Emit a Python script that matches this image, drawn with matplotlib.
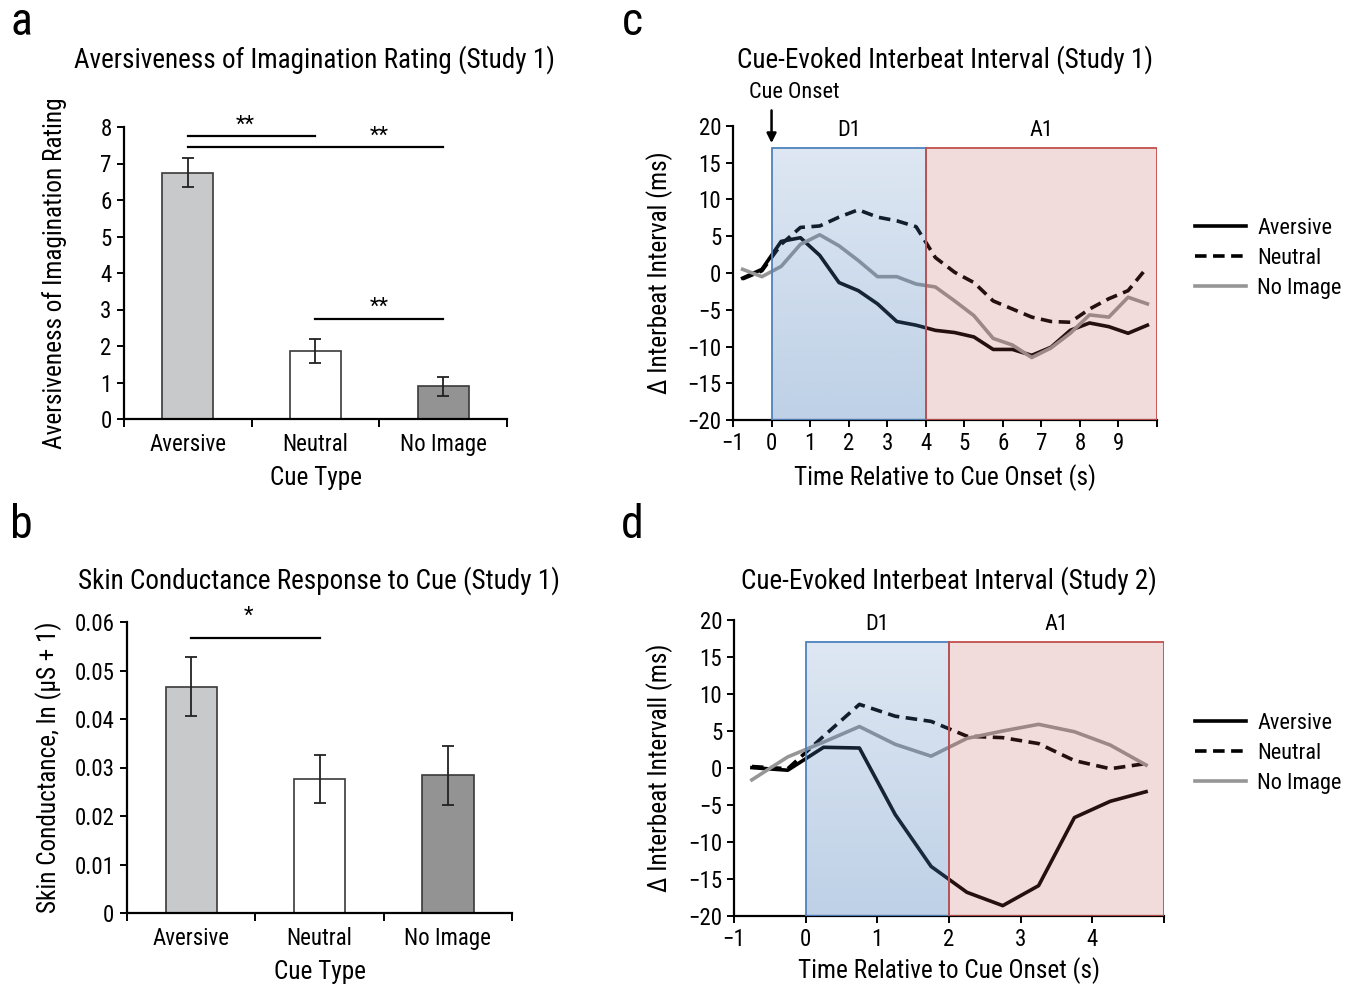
import numpy as np
import matplotlib
matplotlib.use("Agg")
import matplotlib.pyplot as plt
import matplotlib.font_manager as fm
from matplotlib.patches import Rectangle
from matplotlib.lines import Line2D
from matplotlib.colors import to_rgb

# pick a narrow / condensed sans face if one is installed
_fonts = fm.fontManager.ttflist
_chosen = None
for fam in ["Liberation Sans Narrow", "Roboto Condensed", "Open Sans Condensed",
            "Noto Sans Condensed", "DejaVu Sans Condensed"]:
    if any(f.name == fam for f in _fonts):
        _chosen = (fam, "normal")
        break
if _chosen is None:
    for fam in ["Roboto", "Noto Sans", "Open Sans", "DejaVu Sans", "Liberation Sans"]:
        if any(f.name == fam and str(f.stretch) in ("condensed", "semi-condensed") and f.weight in (400, "normal", "regular")
               for f in _fonts):
            _chosen = (fam, "condensed")
            break
if _chosen is None:
    _chosen = ("Liberation Sans", "normal")
plt.rcParams['font.family'] = [_chosen[0], 'DejaVu Sans']
plt.rcParams['font.stretch'] = _chosen[1]
plt.rcParams['axes.unicode_minus'] = True

# ---------------- data ----------------
cue_types = ["Aversive", "Neutral", "No Image"]
bar_colors = ["#c8c9cb", "#ffffff", "#939393"]

rating_mean = [6.75, 1.86, 0.90]
rating_err = [0.40, 0.33, 0.26]

scr_mean = [0.0467, 0.0276, 0.0284]
scr_err = [0.0060, 0.0050, 0.0061]

time_s1 = [-0.75, -0.25, 0.25, 0.75, 1.25, 1.75, 2.25, 2.75, 3.25, 3.75, 4.25,
           4.75, 5.25, 5.75, 6.25, 6.75, 7.25, 7.75, 8.25, 8.75, 9.25, 9.75]
ibi_s1_aversive = [-0.7, 0.5, 4.3, 4.8, 2.4, -1.3, -2.4, -4.2, -6.6, -7.1, -7.8,
                   -8.1, -8.7, -10.4, -10.4, -11.2, -10.1, -7.8, -6.8, -7.3, -8.2, -7.1]
ibi_s1_neutral = [-0.8, 0.3, 3.9, 6.2, 6.4, 7.6, 8.6, 7.6, 7.1, 6.3, 2.1,
                  0.1, -1.3, -3.8, -4.9, -6.0, -6.6, -6.7, -4.9, -3.5, -2.4, 0.8]
ibi_s1_noimage = [0.5, -0.5, 0.9, 3.9, 5.2, 3.7, 1.7, -0.5, -0.5, -1.5, -1.9,
                  -3.8, -5.8, -8.9, -9.8, -11.5, -10.2, -8.2, -5.7, -6.0, -3.3, -4.2]

time_s2 = [-0.75, -0.25, 0.25, 0.75, 1.25, 1.75, 2.25, 2.75, 3.25, 3.75, 4.25, 4.75]
ibi_s2_aversive = [0.05, -0.3, 2.8, 2.7, -6.3, -13.3, -16.8, -18.6, -15.9, -6.7, -4.5, -3.2]
ibi_s2_neutral = [0.2, -0.1, 4.3, 8.6, 7.0, 6.3, 4.3, 4.1, 3.3, 1.0, -0.1, 0.6]
ibi_s2_noimage = [-1.6, 1.5, 3.5, 5.6, 3.2, 1.6, 4.0, 5.0, 5.9, 4.9, 3.1, 0.4]

W, H = 1350, 985
fig = plt.figure(figsize=(W / 100, H / 100), dpi=100)


def fx(px):
    return px / W


def fy(py):
    return 1 - py / H


def axes_px(l, t, r, b):
    return fig.add_axes([fx(l), fy(b), (r - l) / W, (b - t) / H])


TICK = 16.5
LAB = 18.2
TITLE = 19.5
SMALL = 16
EDGE = "#3a3a3a"
GRAY_LINE = "#969696"


def style_spines(ax):
    for s in ["top", "right"]:
        ax.spines[s].set_visible(False)
    for s in ["left", "bottom"]:
        ax.spines[s].set_linewidth(1.6)
        ax.spines[s].set_color("black")


def bar_panel(ax, means, errs, ylim, yticks, yticklabels, ylabel):
    x = np.arange(len(cue_types))
    ax.bar(x, means, width=0.4, color=bar_colors, edgecolor=EDGE, linewidth=1.2, zorder=2)
    ax.errorbar(x, means, yerr=errs, fmt="none", ecolor="#222222", elinewidth=1.3,
                capsize=4, capthick=1.3, zorder=3)
    ax.set_xlim(-0.5, 2.5)
    ax.set_ylim(*ylim)
    ax.set_yticks(yticks)
    ax.set_yticklabels(yticklabels)
    ax.set_xticks(x)
    ax.set_xticklabels(cue_types)
    ax.set_xticks([-0.5, 0.5, 1.5, 2.5], minor=True)
    ax.tick_params(axis="x", which="major", length=0, pad=10, labelsize=TICK)
    ax.tick_params(axis="x", which="minor", length=6, width=1.4, direction="out")
    ax.tick_params(axis="y", length=5, width=1.4, direction="out", labelsize=TICK, pad=4)
    ax.set_xlabel("Cue Type", fontsize=LAB)
    ax.set_ylabel(ylabel, fontsize=LAB)
    style_spines(ax)


def sig(ax, x0, x1, y, tx, ty, txt):
    ax.plot([x0, x1], [y, y], color="black", lw=1.6, clip_on=False)
    ax.text(tx, ty, txt, ha="center", va="center", fontsize=16, clip_on=False)


# ---------------- panel a ----------------
axa = axes_px(124, 127, 507, 419)
bar_panel(axa, rating_mean, rating_err, (0, 8), range(0, 9), [str(i) for i in range(9)],
          "Aversiveness of Imagination Rating")
sig(axa, 0, 1, 7.76, 0.45, 8.05, "**")
sig(axa, 0, 2, 7.46, 1.5, 7.75, "**")
sig(axa, 1, 2, 2.73, 1.5, 3.05, "**")
axa.yaxis.set_label_coords(-0.148, 0.5)
axa.xaxis.set_label_coords(0.5, -0.16)

# ---------------- panel b ----------------
axb = axes_px(127, 622, 512, 913)
yt = [0, 0.01, 0.02, 0.03, 0.04, 0.05, 0.06]
bar_panel(axb, scr_mean, scr_err, (0, 0.06), yt, ["0"] + ["%.2f" % v for v in yt[1:]],
          "Skin Conductance, ln (\u03bcS + 1)")
sig(axb, 0, 1, 0.0568, 0.45, 0.0612, "*")
axb.yaxis.set_label_coords(-0.17, 0.5)
axb.xaxis.set_label_coords(0.5, -0.16)

# ---------------- line panels ----------------
BLUE = to_rgb("#4f81bd")
RED = "#c0504d"


def line_panel(ax, t, av, ne, no, xmax, dsplit, ylabel, legx):
    ax.plot(t, av, color="black", lw=2.6, zorder=2, solid_joinstyle="round")
    ax.plot(t, ne, color="black", lw=2.6, ls=(0, (3.2, 1.8)), zorder=2)
    ax.plot(t, no, color=GRAY_LINE, lw=2.6, zorder=2)
    n = 200
    grad = np.zeros((n, 2, 4))
    grad[..., 0], grad[..., 1], grad[..., 2] = BLUE
    grad[..., 3] = np.linspace(0.19, 0.37, n)[:, None]
    ax.imshow(grad, extent=[0, dsplit, -20, 17], origin="upper", aspect="auto",
              interpolation="bilinear", zorder=3)
    ax.add_patch(Rectangle((0, -20), dsplit, 37, facecolor="none", edgecolor="#4f81bd",
                           lw=1.3, zorder=4))
    ax.add_patch(Rectangle((dsplit, -20), xmax - dsplit, 37, facecolor=RED, alpha=0.2,
                           edgecolor="none", zorder=3))
    ax.add_patch(Rectangle((dsplit, -20), xmax - dsplit, 37, facecolor="none",
                           edgecolor=RED, lw=1.3, zorder=4))
    ax.set_xlim(-1, xmax)
    ax.set_ylim(-20, 20)
    ax.set_yticks(range(-20, 21, 5))
    ax.set_xticks(range(-1, int(xmax) + 1))
    ax.set_xticklabels([("\u2212%d" % -i if i < 0 else str(i)) for i in range(-1, int(xmax))] + [""])
    ax.tick_params(axis="both", length=5, width=1.4, direction="out", labelsize=TICK)
    ax.set_xlabel("Time Relative to Cue Onset (s)", fontsize=LAB)
    ax.set_ylabel(ylabel, fontsize=LAB)
    ax.text(dsplit / 2, 19.4, "D1", ha="center", va="center", fontsize=SMALL, clip_on=False)
    ax.text((dsplit + xmax) / 2, 19.4, "A1", ha="center", va="center", fontsize=SMALL, clip_on=False)
    style_spines(ax)
    handles = [Line2D([], [], color="black", lw=2.6),
               Line2D([], [], color="black", lw=2.6, ls=(0, (3.2, 1.8))),
               Line2D([], [], color=GRAY_LINE, lw=2.6)]
    ax.legend(handles, ["Aversive", "Neutral", "No Image"], loc="center left",
              bbox_to_anchor=(legx, 0.55), frameon=False, fontsize=SMALL, borderaxespad=0,
              borderpad=0, handlelength=2.3, handletextpad=0.5, labelspacing=0.4)


axc = axes_px(733, 126, 1157, 420)
line_panel(axc, time_s1, ibi_s1_aversive, ibi_s1_neutral, ibi_s1_noimage, 10, 4,
           "\u0394 Interbeat Interval (ms)", 1.09)
axc.annotate("", xy=(0, 17.3), xytext=(0, 22.5),
             arrowprops=dict(arrowstyle="-|>", color="black", lw=1.8, mutation_scale=14),
             annotation_clip=False)
axc.text(0.6, 24.6, "Cue Onset", ha="center", va="center", fontsize=SMALL, clip_on=False)
axc.yaxis.set_label_coords(-0.142, 0.5)
axc.xaxis.set_label_coords(0.5, -0.15)

axd = axes_px(734, 620, 1164, 916)
line_panel(axd, time_s2, ibi_s2_aversive, ibi_s2_neutral, ibi_s2_noimage, 5, 2,
           "\u0394 Interbeat Intervall (ms)", 1.072)
axd.yaxis.set_label_coords(-0.142, 0.5)
axd.xaxis.set_label_coords(0.5, -0.14)

# ---------------- titles & panel letters ----------------
fig.text(fx(315), fy(60), "Aversiveness of Imagination Rating (Study 1)", ha="center", va="center", fontsize=TITLE)
fig.text(fx(319), fy(581), "Skin Conductance Response to Cue (Study 1)", ha="center", va="center", fontsize=TITLE)
fig.text(fx(945), fy(60), "Cue-Evoked Interbeat Interval (Study 1)", ha="center", va="center", fontsize=TITLE)
fig.text(fx(949), fy(581), "Cue-Evoked Interbeat Interval (Study 2)", ha="center", va="center", fontsize=TITLE)

for lab, x, y in [("a", 21, 22), ("b", 21, 525), ("c", 632, 22), ("d", 632, 525)]:
    fig.text(fx(x), fy(y), lab, ha="center", va="center", fontsize=33)

fig.savefig("out.png", dpi=100)
